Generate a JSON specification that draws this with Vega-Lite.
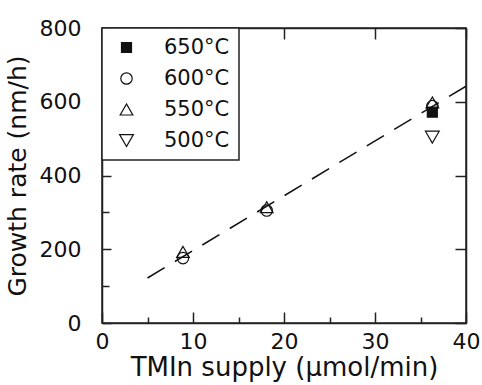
{
  "$schema": "https://vega.github.io/schema/vega-lite/v6.json",
  "width": 364,
  "height": 295,
  "autosize": "none",
  "padding": {"left": 102, "top": 28, "right": 16, "bottom": 62},
  "background": "white",
  "config": {
    "view": {"stroke": "#222", "strokeWidth": 1.5},
    "font": "DejaVu Sans",
    "axis": {
      "grid": false,
      "domainColor": "#222",
      "domainWidth": 1.5,
      "tickColor": "#222",
      "tickWidth": 1.5,
      "labelColor": "#111",
      "titleColor": "#111",
      "labelFont": "DejaVu Sans",
      "titleFont": "DejaVu Sans",
      "labelFontSize": 22,
      "titleFontWeight": "normal",
      "labelFlush": false,
      "labelOverlap": false
    },
    "legend": {
      "orient": "top-left",
      "offset": 0,
      "padding": 9,
      "fillColor": "white",
      "strokeColor": "#222",
      "strokeWidth": 1.5,
      "labelFont": "DejaVu Sans",
      "labelFontSize": 21,
      "labelColor": "#111",
      "rowPadding": 9,
      "symbolOffset": 5,
      "labelOffset": 27,
      "symbolStrokeWidth": 1.2
    }
  },
  "datasets": {
    "fit": [
      {"supply": 5, "rate": 122},
      {"supply": 40, "rate": 642}
    ],
    "growth": [
      {"temp": "600°C", "supply": 8.9, "rate": 176},
      {"temp": "600°C", "supply": 18.1, "rate": 305},
      {"temp": "600°C", "supply": 36.3, "rate": 588},
      {"temp": "550°C", "supply": 8.9, "rate": 193},
      {"temp": "550°C", "supply": 18.1, "rate": 314},
      {"temp": "550°C", "supply": 36.3, "rate": 598},
      {"temp": "500°C", "supply": 36.3, "rate": 504},
      {"temp": "650°C", "supply": 36.3, "rate": 572}
    ]
  },
  "layer": [
    {
      "data": {"name": "fit"},
      "mark": {"type": "line", "color": "#111", "strokeWidth": 1.5, "strokeDash": [20, 12]},
      "encoding": {
        "x": {
          "field": "supply",
          "type": "quantitative",
          "scale": {"domain": [0, 40], "nice": false},
          "axis": {
            "orient": "bottom",
            "values": [0, 10, 20, 30, 40],
            "ticks": false,
            "labelPadding": 8,
            "title": "TMIn supply (μmol/min)",
            "titleFontSize": 26,
            "titlePadding": 2
          }
        },
        "y": {
          "field": "rate",
          "type": "quantitative",
          "scale": {"domain": [0, 800], "nice": false},
          "axis": {
            "orient": "left",
            "values": [0, 200, 400, 600, 800],
            "ticks": false,
            "labelPadding": 21,
            "title": "Growth rate (nm/h)",
            "titleFontSize": 25,
            "titlePadding": 9
          }
        }
      }
    },
    {
      "data": {"name": "growth"},
      "mark": {"type": "point", "opacity": 0},
      "encoding": {
        "x": {
          "field": "supply",
          "type": "quantitative",
          "scale": {"domain": [0, 40], "nice": false},
          "axis": {
            "orient": "top",
            "offset": -295,
            "values": [5, 15, 25, 35],
            "tickSize": 6,
            "domain": false,
            "labels": false,
            "title": null
          }
        },
        "y": {
          "field": "rate",
          "type": "quantitative",
          "scale": {"domain": [0, 800], "nice": false},
          "axis": {
            "orient": "right",
            "offset": -364,
            "values": [100, 300, 500, 700],
            "tickSize": 7,
            "domain": false,
            "labels": false,
            "title": null
          }
        }
      }
    },
    {
      "data": {"name": "growth"},
      "mark": {"type": "point", "opacity": 0},
      "encoding": {
        "x": {
          "field": "supply",
          "type": "quantitative",
          "scale": {"domain": [0, 40], "nice": false},
          "axis": {
            "orient": "top",
            "offset": -295,
            "values": [0, 10, 20, 30, 40],
            "tickSize": 11,
            "domain": false,
            "labels": false,
            "title": null
          }
        },
        "y": {
          "field": "rate",
          "type": "quantitative",
          "scale": {"domain": [0, 800], "nice": false},
          "axis": {
            "orient": "right",
            "offset": -364,
            "values": [0, 200, 400, 600, 800],
            "tickSize": 9,
            "domain": false,
            "labels": false,
            "title": null
          }
        }
      }
    },
    {
      "data": {"name": "growth"},
      "mark": {"type": "point", "filled": false, "strokeWidth": 1.2, "opacity": 1},
      "encoding": {
        "x": {
          "field": "supply",
          "type": "quantitative",
          "scale": {"domain": [0, 40], "nice": false},
          "axis": {
            "orient": "top",
            "values": [0, 10, 20, 30, 40],
            "tickSize": -11,
            "labels": false,
            "title": null
          }
        },
        "y": {
          "field": "rate",
          "type": "quantitative",
          "scale": {"domain": [0, 800], "nice": false},
          "axis": {
            "orient": "right",
            "values": [0, 200, 400, 600, 800],
            "tickSize": -11,
            "labels": false,
            "title": null
          }
        },
        "shape": {
          "field": "temp",
          "type": "nominal",
          "title": null,
          "scale": {
            "domain": ["650°C", "600°C", "550°C", "500°C"],
            "range": ["square", "circle", "triangle-up", "triangle-down"]
          }
        },
        "fill": {
          "field": "temp",
          "type": "nominal",
          "title": null,
          "scale": {
            "domain": ["650°C", "600°C", "550°C", "500°C"],
            "range": ["#111", "transparent", "transparent", "transparent"]
          }
        },
        "stroke": {
          "field": "temp",
          "type": "nominal",
          "title": null,
          "scale": {
            "domain": ["650°C", "600°C", "550°C", "500°C"],
            "range": ["#111", "#111", "#111", "#111"]
          }
        },
        "size": {
          "field": "temp",
          "type": "nominal",
          "title": null,
          "scale": {
            "domain": ["650°C", "600°C", "550°C", "500°C"],
            "range": [100, 190, 200, 200]
          }
        }
      }
    }
  ],
  "resolve": {"axis": {"x": "independent", "y": "independent"}}
}
